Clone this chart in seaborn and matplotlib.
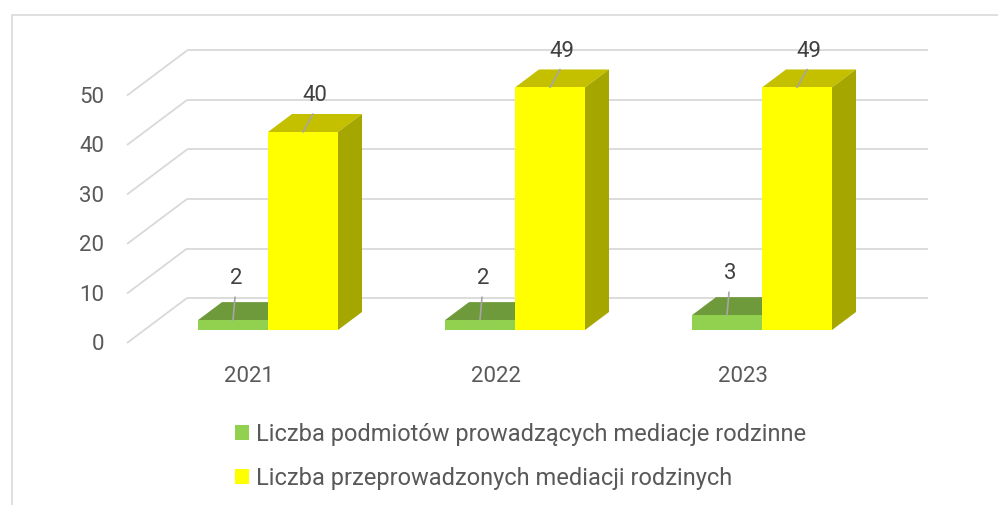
import matplotlib
matplotlib.use("Agg")
import matplotlib.pyplot as plt
from matplotlib.patches import Polygon, Rectangle
import seaborn as sns
import pandas as pd

# ---- data ----
years = ["2021", "2022", "2023"]
series_names = ["Liczba podmiotów prowadzących mediacje rodzinne",
                "Liczba przeprowadzonych mediacji rodzinych"]
podmioty = [2, 2, 3]
mediacje = [40, 49, 49]
y_ticks = [0, 10, 20, 30, 40, 50]

front_colors = ["#92d050", "#ffff00"]
top_colors = ["#6f9a3b", "#c4c000"]
side_colors = ["#5f8532", "#a6a600"]

sns.set_theme(style="white")
plt.rcParams["font.family"] = ["Roboto", "DejaVu Sans"]
FS = 16
LFS = 17

W, H = 998, 505
fig = plt.figure(figsize=(W / 100, H / 100), dpi=100)
ax = fig.add_axes([0, 0, 1, 1])

# pixel <-> data mapping
X0, XU = 268.0, 247.0      # pixel x of category 0, pixels per category
Y0, YU = 330.0, 4.95       # pixel y of value 0 (front), pixels per unit
ax.set_xlim(-X0 / XU, (W - X0) / XU)
ax.set_ylim((Y0 - H) / YU, Y0 / YU)
ax.axis("off")

def dx(p):
    return p / XU

def dy(p):  # p in pixels upward
    return p / YU

def px(x):
    return (x - X0) / XU

def py(y):
    return (Y0 - y) / YU

grid_c = "#d9d9d9"
# outer frame
ax.add_patch(Rectangle((px(12), py(H + 20)), px(W + 20) - px(12), py(15) - py(H + 20),
                       fill=False, edgecolor=grid_c, lw=1.2, zorder=0, clip_on=False))

# back wall & side gridlines
for t in y_ticks:
    yb = t + dy(32)
    yf = t - dy(13)
    ax.plot([px(187), px(928)], [yb, yb], color=grid_c, lw=1.3, zorder=1, solid_capstyle="butt")
    ax.plot([px(127), px(187)], [yf, yb], color=grid_c, lw=1.3, zorder=1, solid_capstyle="butt")
    ax.text(px(104), yf - dy(2), str(t), ha="right", va="center", fontsize=FS, color="#595959")

df = pd.DataFrame({
    "year": years * 2,
    "value": podmioty + mediacje,
    "series": [series_names[0]] * len(years) + [series_names[1]] * len(years),
})

sns.barplot(data=df, x="year", y="value", hue="series", order=years, hue_order=series_names,
            palette=front_colors, width=140 / 247, saturation=1, linewidth=0,
            ax=ax, zorder=3, legend=True)
ax.set_xlim(-X0 / XU, (W - X0) / XU)
ax.set_ylim((Y0 - H) / YU, Y0 / YU)
ax.axis("off")

ddx, ddy = dx(24), dy(18)
for si, cont in enumerate(ax.containers):
    for bar in cont:
        x0 = bar.get_x()
        x1 = x0 + bar.get_width()
        v = bar.get_height()
        bar.set_zorder(3 + si)
        ax.add_patch(Polygon([(x0, v), (x1, v), (x1 + ddx, v + ddy), (x0 + ddx, v + ddy)],
                             closed=True, facecolor=top_colors[si], edgecolor="none", zorder=2 + si))
        ax.add_patch(Polygon([(x1, 0), (x1, v), (x1 + ddx, v + ddy), (x1 + ddx, ddy)],
                             closed=True, facecolor=side_colors[si], edgecolor="none", zorder=2 + si))
        cx = (x0 + x1) / 2
        if si == 0:
            lx, ly, tx, ty = dx(2), dy(23), dx(3), dy(42)
        else:
            lx, ly, tx, ty = dx(10), dy(18), dx(12), dy(36)
        ax.plot([cx, cx + lx], [v, v + ly], color="#a6a6a6", lw=1.2, zorder=6)
        ax.text(cx + tx, v + ty, f"{int(v)}", ha="center", va="center", fontsize=FS,
                color="#404040", zorder=7)

# category labels
for i, yr in enumerate(years):
    ax.text(i - dx(19), py(376), yr, ha="center", va="center", fontsize=FS, color="#595959")

handles, labels = ax.get_legend_handles_labels()
ax.get_legend().remove()
fig.legend(handles, labels, loc="upper left", bbox_to_anchor=(235 / W, 1 - 423 / H),
           frameon=False, fontsize=LFS, labelcolor="#595959", handlelength=0.59,
           handleheight=0.59, handletextpad=0.3, labelspacing=0.87, borderpad=0,
           borderaxespad=0)

fig.savefig("out.png", dpi=100)
